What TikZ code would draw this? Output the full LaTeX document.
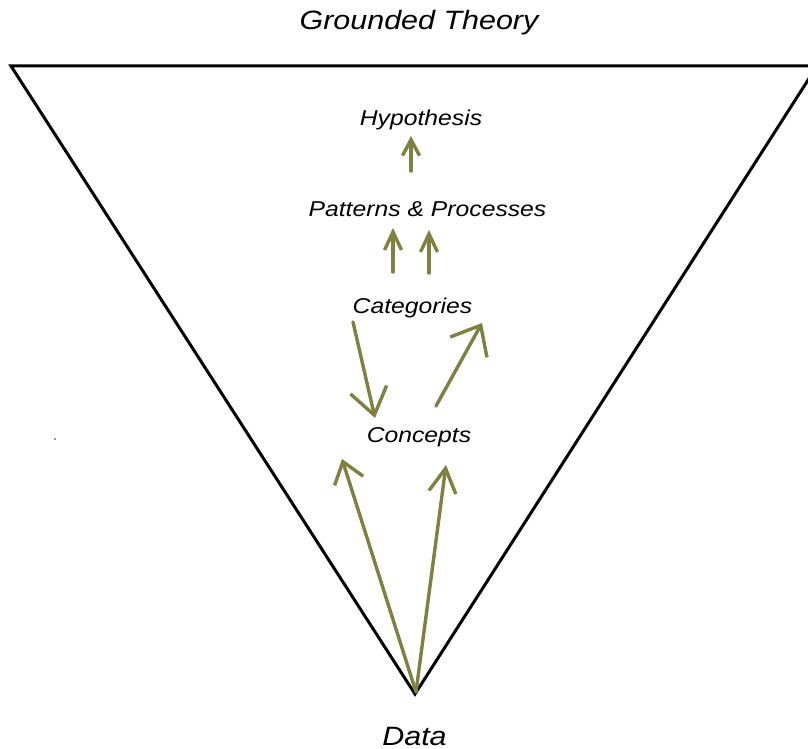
\documentclass[tikz,border=0pt]{standalone}
\usepackage{fontspec}
\setmainfont{Liberation Sans}[FakeStretch=1.15]
\usetikzlibrary{arrows.meta}
\definecolor{olivearrow}{RGB}{128,128,64}
\begin{document}
\begin{tikzpicture}[x=1pt,y=-1pt,
  lbl/.style={font=\itshape\fontsize{21.5}{24}\selectfont, inner sep=0pt, anchor=base},
  big/.style={font=\itshape\fontsize{26.5}{30}\selectfont, inner sep=0pt, anchor=base},
  frame/.style={draw=black, line width=3pt, line join=miter},
  flow/.style={draw=olivearrow, line width=3.4pt, line cap=round},
  ]
\clip (0,0) rectangle (808,749);
\fill[white] (0,0) rectangle (808,749);
% labels
\node[big] (title) at (419,30) {Grounded Theory};
\node[lbl] (hyp) at (421,125) {Hypothesis};
\node[lbl] (pat) at (427.5,216) {Patterns \& Processes};
\node[lbl] (cat) at (412.5,313) {Categories};
\node[lbl] (con) at (419,442) {Concepts};
\node[big] (data) at (414.5,745) {Data};
% triangle
\coordinate (tl) at (11,66);
\coordinate (tr) at (817,66);
\coordinate (apex) at (415,694);
\draw[frame] (tl) -- (tr) -- (apex) -- cycle;
% arrow end points
\coordinate (h0) at (411,171); \coordinate (h1) at (411,136);
\coordinate (pa0) at (393,272); \coordinate (pa1) at (393,228);
\coordinate (pb0) at (429,273); \coordinate (pb1) at (429,230);
\coordinate (cd0) at (353,322); \coordinate (cd1) at (375,418);
\coordinate (cu0) at (436,406); \coordinate (cu1) at (482,323);
\coordinate (d0) at (416,692);
\coordinate (dl1) at (342,459);
\coordinate (dr1) at (446,465);
% arrows
\draw[flow, -{Straight Barb[length=16pt,width=17pt]}] (h0) -- (h1);
\draw[flow, -{Straight Barb[length=18pt,width=17pt]}] (pa0) -- (pa1);
\draw[flow, -{Straight Barb[length=18pt,width=17pt]}] (pb0) -- (pb1);
\draw[flow, -{Straight Barb[length=26pt,width=37pt]}] (cd0) -- (cd1);
\draw[flow, -{Straight Barb[length=25pt,width=42pt]}] (cu0) -- (cu1);
\draw[flow, -{Straight Barb[length=20pt,width=30pt]}] (d0) -- (dl1);
\draw[flow, -{Straight Barb[length=24pt,width=27pt]}] (d0) -- (dr1);
% stray dot
\fill[olivearrow] (55,439) circle (1.2);
\end{tikzpicture}
\end{document}
